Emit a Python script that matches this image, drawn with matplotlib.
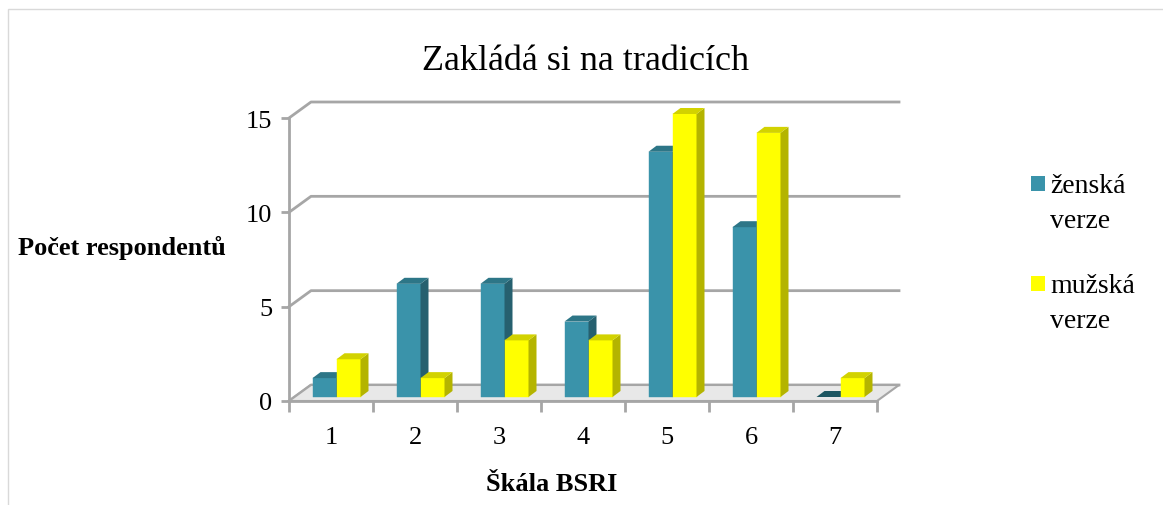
import matplotlib
matplotlib.use("Agg")
import matplotlib.pyplot as plt
from matplotlib.patches import Polygon, Rectangle
from matplotlib.lines import Line2D

# ---- data ----
categories = ["1", "2", "3", "4", "5", "6", "7"]
series_names = ["ženská\nverze", "mužská\nverze"]
female = [1, 6, 6, 4, 13, 9, 0]
male = [2, 1, 3, 3, 15, 14, 1]
y_ticks = [0, 5, 10, 15]
title = "Zakládá si na tradicích"
x_label = "Škála BSRI"
y_label = "Počet respondentů"

# ---- style ----
W, H = 1163, 506
fig = plt.figure(figsize=(W / 100, H / 100), dpi=100)
fig.patch.set_facecolor("white")
serif = ["Liberation Serif", "DejaVu Serif"]

# outer chart border
fig.patches.append(Rectangle((8 / W, -0.01), 1.2, 1 - 10 / H + 0.01,
                             transform=fig.transFigure, fill=False,
                             edgecolor="#d9d9d9", lw=1.0))

ax = fig.add_axes([289 / W, 104 / H, 588 / W, 283 / H])
ax.set_xlim(0.5, len(categories) + 0.5)
ax.set_ylim(0, 15)
ax.patch.set_alpha(0)

# depth in data units (wall depth)
cat_px = 588 / len(categories)
val_px = 283 / 15
DX = 22 / cat_px
DY = 16 / val_px
f0 = 0.25           # bar front depth fraction
bdx = 8 / cat_px    # bar depth
bdy = 6 / val_px
bw = 24 / cat_px    # bar width

grid_c = "#a6a6a6"
n = len(categories)
x0, x1 = 0.5, n + 0.5

# floor
floor = Polygon([(x0, 0), (x1, 0), (x1 + DX, DY), (x0 + DX, DY)],
                closed=True, facecolor="#e8e8e8", edgecolor=grid_c, lw=1.5,
                zorder=1, clip_on=False)
ax.add_patch(floor)

# gridlines on back wall
for v in y_ticks:
    ax.add_line(Line2D([x0, x0 + DX, x1 + DX], [v, v + DY, v + DY],
                       color=grid_c, lw=2, zorder=0.5, clip_on=False))

front_cols = ["#3a93aa", "#ffff00"]
top_cols = ["#2d7687", "#d2d200"]
side_cols = ["#26606f", "#b4b400"]
zero_col = "#1d5661"

ox = f0 * DX
oy = f0 * DY
for i in range(n):
    c = i + 1
    for s, vals in enumerate([female, male]):
        v = vals[i]
        left = c - bw + s * bw + ox
        bottom = oy
        top = bottom + v
        z = 3 + i * 2 + s
        if v > 0:
            bars = ax.bar(left, v, width=bw, bottom=bottom, align="edge",
                          color=front_cols[s], edgecolor=front_cols[s], lw=0.3,
                          zorder=z)
            for b in bars:
                b.set_clip_on(False)
            side = Polygon([(left + bw, bottom), (left + bw + bdx, bottom + bdy),
                            (left + bw + bdx, top + bdy), (left + bw, top)],
                           closed=True, facecolor=side_cols[s], edgecolor="none",
                           zorder=z, clip_on=False)
            ax.add_patch(side)
            tcol = top_cols[s]
        else:
            tcol = zero_col
        topp = Polygon([(left, top), (left + bw, top), (left + bw + bdx, top + bdy),
                        (left + bdx, top + bdy)],
                       closed=True, facecolor=tcol, edgecolor="none",
                       zorder=z, clip_on=False)
        ax.add_patch(topp)

# axes styling
for sp in ["top", "right"]:
    ax.spines[sp].set_visible(False)
ax.spines["left"].set_color(grid_c)
ax.spines["left"].set_linewidth(2)
ax.spines["bottom"].set_color(grid_c)
ax.spines["bottom"].set_linewidth(2)
ax.spines["left"].set_zorder(20)
ax.spines["bottom"].set_zorder(20)

ax.set_yticks(y_ticks)
ax.set_yticklabels([str(t) for t in y_ticks], fontfamily=serif, fontsize=19)
ax.tick_params(axis="y", length=6, width=2, color=grid_c, pad=6)

ax.set_xticks([i + 0.5 for i in range(n + 1)])
ax.set_xticklabels([])
ax.tick_params(axis="x", which="major", length=8, width=2, color=grid_c)
ax.set_xticks(range(1, n + 1), minor=True)
ax.set_xticklabels(categories, minor=True, fontfamily=serif, fontsize=19)
ax.tick_params(axis="x", which="minor", length=0, pad=18)

# texts
fig.text(586 / W, 1 - 62 / H, title, ha="center", va="center",
         fontfamily=serif, fontsize=26)
fig.text(18 / W, 1 - 248 / H, y_label, ha="left", va="center",
         fontfamily=serif, fontsize=19, fontweight="bold")
fig.text(552 / W, 1 - 485 / H, x_label, ha="center", va="center",
         fontfamily=serif, fontsize=19, fontweight="bold")

# legend
leg_top = [177, 277]
for s in range(2):
    yt = leg_top[s]
    fig.patches.append(Rectangle((1031 / W, 1 - (yt + 15) / H), 14 / W, 15 / H,
                                 transform=fig.transFigure,
                                 facecolor=front_cols[s], edgecolor="none"))
    fig.text(1050 / W, 1 - (yt - 3) / H, series_names[s], ha="left", va="top",
             fontfamily=serif, fontsize=20, linespacing=1.55)

fig.savefig("out.png", dpi=100, facecolor="white")
